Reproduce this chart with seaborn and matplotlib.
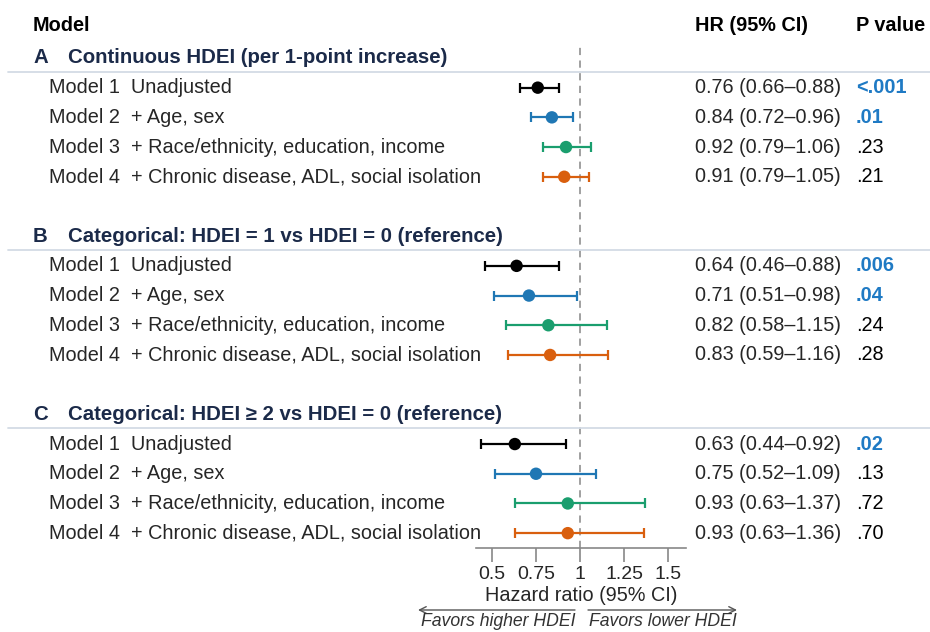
import numpy as np
import pandas as pd
import matplotlib
matplotlib.use("Agg")
import matplotlib.pyplot as plt
import matplotlib.transforms as mtransforms
import seaborn as sns

# ---- data -------------------------------------------------------------
sections = [
    ("A", "Continuous HDEI (per 1-point increase)"),
    ("B", "Categorical: HDEI = 1 vs HDEI = 0 (reference)"),
    ("C", "Categorical: HDEI \u2265 2 vs HDEI = 0 (reference)"),
]
model_names = ["Model 1", "Model 2", "Model 3", "Model 4"]
model_desc = ["Unadjusted", "+ Age, sex",
              "+ Race/ethnicity, education, income",
              "+ Chronic disease, ADL, social isolation"]

hr_a = [0.76, 0.84, 0.92, 0.91]
lo_a = [0.66, 0.72, 0.79, 0.79]
hi_a = [0.88, 0.96, 1.06, 1.05]
p_a = ["<.001", ".01", ".23", ".21"]

hr_b = [0.64, 0.71, 0.82, 0.83]
lo_b = [0.46, 0.51, 0.58, 0.59]
hi_b = [0.88, 0.98, 1.15, 1.16]
p_b = [".006", ".04", ".24", ".28"]

hr_c = [0.63, 0.75, 0.93, 0.93]
lo_c = [0.44, 0.52, 0.63, 0.63]
hi_c = [0.92, 1.09, 1.37, 1.36]
p_c = [".02", ".13", ".72", ".70"]

significant = [[True, True, False, False],
               [True, True, False, False],
               [True, False, False, False]]

x_ticks = [0.5, 0.75, 1, 1.25, 1.5]
x_tick_labels = ["0.5", "0.75", "1", "1.25", "1.5"]

# ---- styling ----------------------------------------------------------
sns.set_theme(style="white")
plt.rcParams["font.family"] = ["Liberation Sans", "DejaVu Sans"]

model_colors = ["#000000", "#1f77b4", "#1a9e6e", "#d95f0e"]
navy = "#1b2a49"
p_blue = "#1f7ac4"
rule_color = "#d3dbe5"

rows = []
for s, (hr, lo, hi, pv) in enumerate([(hr_a, lo_a, hi_a, p_a),
                                      (hr_b, lo_b, hi_b, p_b),
                                      (hr_c, lo_c, hi_c, p_c)]):
    for m in range(4):
        rows.append(dict(section=s, model=model_names[m], desc=model_desc[m],
                         hr=hr[m], lo=lo[m], hi=hi[m], p=pv[m],
                         sig=significant[s][m], y=s * 6 + 1 + m))
df = pd.DataFrame(rows)

fig = plt.figure(figsize=(9.3, 6.32), dpi=100)
ax = fig.add_axes([476 / 930, 1 - 548 / 632, 210 / 930, (548 - 44) / 632])

ax.set_xlim(0.41, 1.6)
ax.set_ylim(16.5, -0.47)

ax.axvline(1, color="#999999", lw=1.3, ls=(0, (4, 3)), zorder=0)

for m in range(4):
    sub = df[df["model"] == model_names[m]]
    ax.errorbar(sub["hr"], sub["y"],
                xerr=[sub["hr"] - sub["lo"], sub["hi"] - sub["hr"]],
                fmt="none", ecolor=model_colors[m], elinewidth=1.6,
                capsize=3.6, capthick=1.6, zorder=2)

sns.scatterplot(data=df, x="hr", y="y", hue="model",
                palette=model_colors, s=80, edgecolor="none",
                legend=False, ax=ax, zorder=3)

# axis
for side in ["top", "right", "left"]:
    ax.spines[side].set_visible(False)
ax.spines["bottom"].set_color("#888888")
ax.spines["bottom"].set_linewidth(1.2)
ax.set_yticks([])
ax.set_xticks(x_ticks)
ax.set_xticklabels(x_tick_labels, fontsize=14)
ax.tick_params(axis="x", direction="out", length=10, width=1.2,
               color="#888888", pad=3, bottom=True)
ax.set_xlabel("Hazard ratio (95% CI)", fontsize=14.3, labelpad=2)
ax.set_ylabel("")

# text columns
tr = mtransforms.blended_transform_factory(fig.transFigure, ax.transData)
x_letter, x_head, x_label = 33 / 930, 68 / 930, 49 / 930
x_hr, x_p = 695 / 930, 856 / 930
fs = 14.3

for s, (letter, title) in enumerate(sections):
    yh = s * 6
    ax.text(x_letter, yh, letter, transform=tr, ha="left", va="center",
            fontsize=14.7, fontweight="bold", color=navy, clip_on=False)
    ax.text(x_head, yh, title, transform=tr, ha="left", va="center",
            fontsize=14.7, fontweight="bold", color=navy, clip_on=False)
    ax.add_line(plt.Line2D([8 / 930, 1.0], [yh + 0.47, yh + 0.47],
                           transform=tr, color=rule_color, lw=1.3,
                           clip_on=False, zorder=0))

for _, r in df.iterrows():
    ax.text(x_label, r["y"], f"{r['model']}  {r['desc']}", transform=tr,
            ha="left", va="center", fontsize=fs, clip_on=False)
    ax.text(x_hr, r["y"], f"{r['hr']:.2f} ({r['lo']:.2f}\u2013{r['hi']:.2f})",
            transform=tr, ha="left", va="center", fontsize=fs, clip_on=False)
    ax.text(x_p, r["y"], r["p"], transform=tr, ha="left", va="center",
            fontsize=fs, clip_on=False,
            color=p_blue if r["sig"] else "black",
            fontweight="bold" if r["sig"] else "normal")

# column headers
yc = (25 - 58) / 29.75
for xx, t in [(x_letter, "Model"), (x_hr, "HR (95% CI)"), (x_p, "P value")]:
    ax.text(xx, yc, t, transform=tr, ha="left", va="center", fontsize=14.3,
            fontweight="bold", color="black", clip_on=False)

# direction arrows
fy = lambda px: 1 - px / 632
fx = lambda px: px / 930
arrow_kw = dict(arrowstyle="->", color="#555555", lw=1.0,
                shrinkA=0, shrinkB=0, mutation_scale=12)
fig.add_artist(matplotlib.patches.FancyArrowPatch(
    (fx(575), fy(610)), (fx(418), fy(610)), transform=fig.transFigure, **arrow_kw))
fig.add_artist(matplotlib.patches.FancyArrowPatch(
    (fx(588), fy(610)), (fx(737), fy(610)), transform=fig.transFigure, **arrow_kw))
fig.text(fx(575), fy(626.5), "Favors higher HDEI", ha="right", va="baseline",
         fontsize=12.7, style="italic", color="#333333")
fig.text(fx(589), fy(626.5), "Favors lower HDEI", ha="left", va="baseline",
         fontsize=12.7, style="italic", color="#333333")

fig.savefig("out.png", dpi=100, facecolor="white")
